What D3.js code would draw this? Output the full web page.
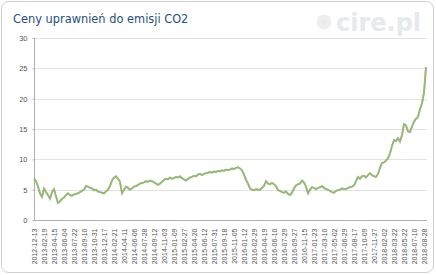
<!DOCTYPE html>
<html>
<head>
<meta charset="utf-8">
<script src="https://cdn.jsdelivr.net/npm/d3@7"></script>
<style>
  body { margin: 0; background: #fff; }
  svg { display: block; font-family: "DejaVu Sans", sans-serif; }
  .axis path, .axis line { stroke: #b0b0b0; }
  .axis text { fill: #555; }
</style>
</head>
<body>
<svg id="chart" width="436" height="275"></svg>
<script>
// etykiety osi X (co 5 punkt)
const dateLabels = [
  "2012-12-13", "2013-02-19", "2013-04-15", "2013-06-04", "2013-07-22",
  "2013-09-10", "2013-10-31", "2013-12-17", "2014-02-21", "2014-04-11",
  "2014-06-06", "2014-07-28", "2014-09-12", "2014-11-03", "2015-01-09",
  "2015-02-27", "2015-04-20", "2015-06-12", "2015-07-31", "2015-09-18",
  "2015-11-05", "2016-01-12", "2016-02-29", "2016-04-19", "2016-06-10",
  "2016-07-29", "2016-09-27", "2016-11-15", "2017-01-23", "2017-03-10",
  "2017-05-02", "2017-06-29", "2017-08-17", "2017-10-09", "2017-11-27",
  "2018-02-02", "2018-03-22", "2018-05-22", "2018-07-10", "2018-08-28"
];
const labelStep = 5;

// ceny EUA
const prices = [
  6.8, 6.4, 5.5, 4.4, 3.8, 5.2, 4.6, 4.1, 3.5, 4.6,
  5.1, 3.9, 2.8, 3.1, 3.5, 3.7, 4.1, 4.4, 4.1, 4.0,
  4.2, 4.3, 4.4, 4.6, 4.8, 5.0, 5.6, 5.5, 5.3, 5.2,
  4.9, 5.0, 4.7, 4.6, 4.5, 4.4, 4.7, 5.0, 5.6, 6.5,
  7.0, 7.2, 6.8, 6.3, 4.4, 5.0, 5.5, 5.3, 5.0, 5.2,
  5.5, 5.6, 5.8, 6.0, 6.1, 6.2, 6.4, 6.3, 6.5, 6.4,
  6.2, 6.0, 5.8, 6.0, 6.3, 6.6, 6.8, 6.7, 7.0, 6.8,
  6.9, 7.1, 7.0, 7.2, 6.9, 6.7, 6.5, 6.8, 7.0, 7.1,
  7.3, 7.2, 7.5, 7.6, 7.4, 7.6, 7.7, 7.8, 7.9, 7.8,
  8.0, 7.9, 8.1, 8.0, 8.2, 8.1, 8.3, 8.2, 8.3, 8.5,
  8.4, 8.6, 8.7, 8.5, 8.2, 7.5, 6.6, 6.0, 5.2, 5.0,
  4.9, 5.1, 5.0, 5.0, 5.3, 5.6, 6.4, 6.0, 5.9, 6.1,
  5.9, 5.6, 4.9, 4.8, 4.6, 4.5, 4.7, 4.3, 4.1, 4.5,
  5.2, 5.7, 5.9, 6.0, 6.5, 6.2, 5.5, 4.4, 5.0, 5.4,
  5.3, 5.1, 5.3, 5.4, 5.6, 5.3, 5.1, 5.0, 4.8, 4.6,
  4.5, 4.8, 4.9, 5.0, 5.2, 5.1, 5.1, 5.3, 5.4, 5.5,
  5.7, 6.4, 7.1, 6.8, 7.2, 7.3, 7.0, 7.4, 7.7, 7.4,
  7.2, 7.1, 7.6, 8.6, 9.4, 9.5, 9.8, 10.2, 11.0, 12.2,
  13.2, 13.0, 13.5, 12.9, 14.0, 15.8, 15.6, 14.6, 14.5, 15.4,
  16.2, 16.7, 17.0, 18.3, 19.2, 21.0, 25.2
];

const yTicks = [0, 5, 10, 15, 20, 25, 30];

const margin = { top: 38, right: 9, bottom: 55, left: 34 };
const width = 436, height = 275;

const svg = d3.select("#chart");

// ramka
svg.append("rect")
  .attr("x", 1.5).attr("y", 1.5)
  .attr("width", width - 4).attr("height", height - 4)
  .attr("rx", 7)
  .attr("fill", "#fff")
  .attr("stroke", "#cfcfcf");

// znak wodny
const wm = svg.append("g").attr("fill", "#e6e9ee");
wm.append("circle").attr("cx", 324).attr("cy", 22).attr("r", 7.5).attr("fill", "#eceef1");
wm.append("circle").attr("cx", 324).attr("cy", 22).attr("r", 2).attr("fill", "#f3e4e4");
wm.append("text")
  .attr("x", 336).attr("y", 31)
  .attr("font-size", 24).attr("font-weight", "bold")
  .text("cire.pl");

// tytuł
svg.append("text")
  .attr("x", 13).attr("y", 23)
  .attr("font-size", 11.4)
  .attr("fill", "#264f80")
  .text("Ceny uprawnień do emisji CO2");

const x = d3.scaleLinear()
  .domain([0, prices.length - 1])
  .range([margin.left, width - margin.right - 1]);
const y = d3.scaleLinear()
  .domain([0, 30])
  .range([height - margin.bottom, margin.top]);

// siatka
svg.append("g")
  .selectAll("line")
  .data(yTicks.filter(d => d > 0))
  .join("line")
  .attr("x1", margin.left).attr("x2", width - margin.right)
  .attr("y1", d => Math.round(y(d)) + 0.5).attr("y2", d => Math.round(y(d)) + 0.5)
  .attr("stroke", "#e3e3e3");

// oś Y
const yAxis = svg.append("g")
  .attr("class", "axis")
  .attr("transform", `translate(${margin.left + 0.5},0)`)
  .call(d3.axisLeft(y).tickValues(yTicks).tickSize(2).tickPadding(5).tickSizeOuter(0));
yAxis.selectAll("text").attr("font-size", 7.5);
yAxis.select(".domain").attr("d", `M0,${y(30)}V${y(0)}`);

// oś X
const labelIdx = dateLabels.map((d, i) => i * labelStep);
const xAxis = svg.append("g")
  .attr("class", "axis")
  .attr("transform", `translate(0,${Math.round(y(0)) + 0.5})`)
  .call(d3.axisBottom(x).tickValues(labelIdx)
    .tickFormat(d => dateLabels[d / labelStep])
    .tickSize(0).tickSizeOuter(0));
xAxis.select(".domain").attr("d", `M${margin.left},0H${width - margin.right}`);
xAxis.selectAll("text")
  .attr("font-size", 7)
  .attr("transform", "rotate(-90)")
  .attr("text-anchor", "end")
  .attr("x", -8).attr("y", 0)
  .attr("dy", "0.35em");

// linia
const line = d3.line()
  .x((d, i) => x(i))
  .y(d => y(d));

svg.append("path")
  .datum(prices)
  .attr("fill", "none")
  .attr("stroke", "#4f81bd")
  .attr("stroke-width", 2)
  .attr("stroke-opacity", 0.55)
  .attr("d", line);

svg.append("path")
  .datum(prices)
  .attr("fill", "none")
  .attr("stroke", "#9bbb59")
  .attr("stroke-width", 1.5)
  .attr("stroke-linejoin", "round")
  .attr("d", line);
</script>
</body>
</html>
